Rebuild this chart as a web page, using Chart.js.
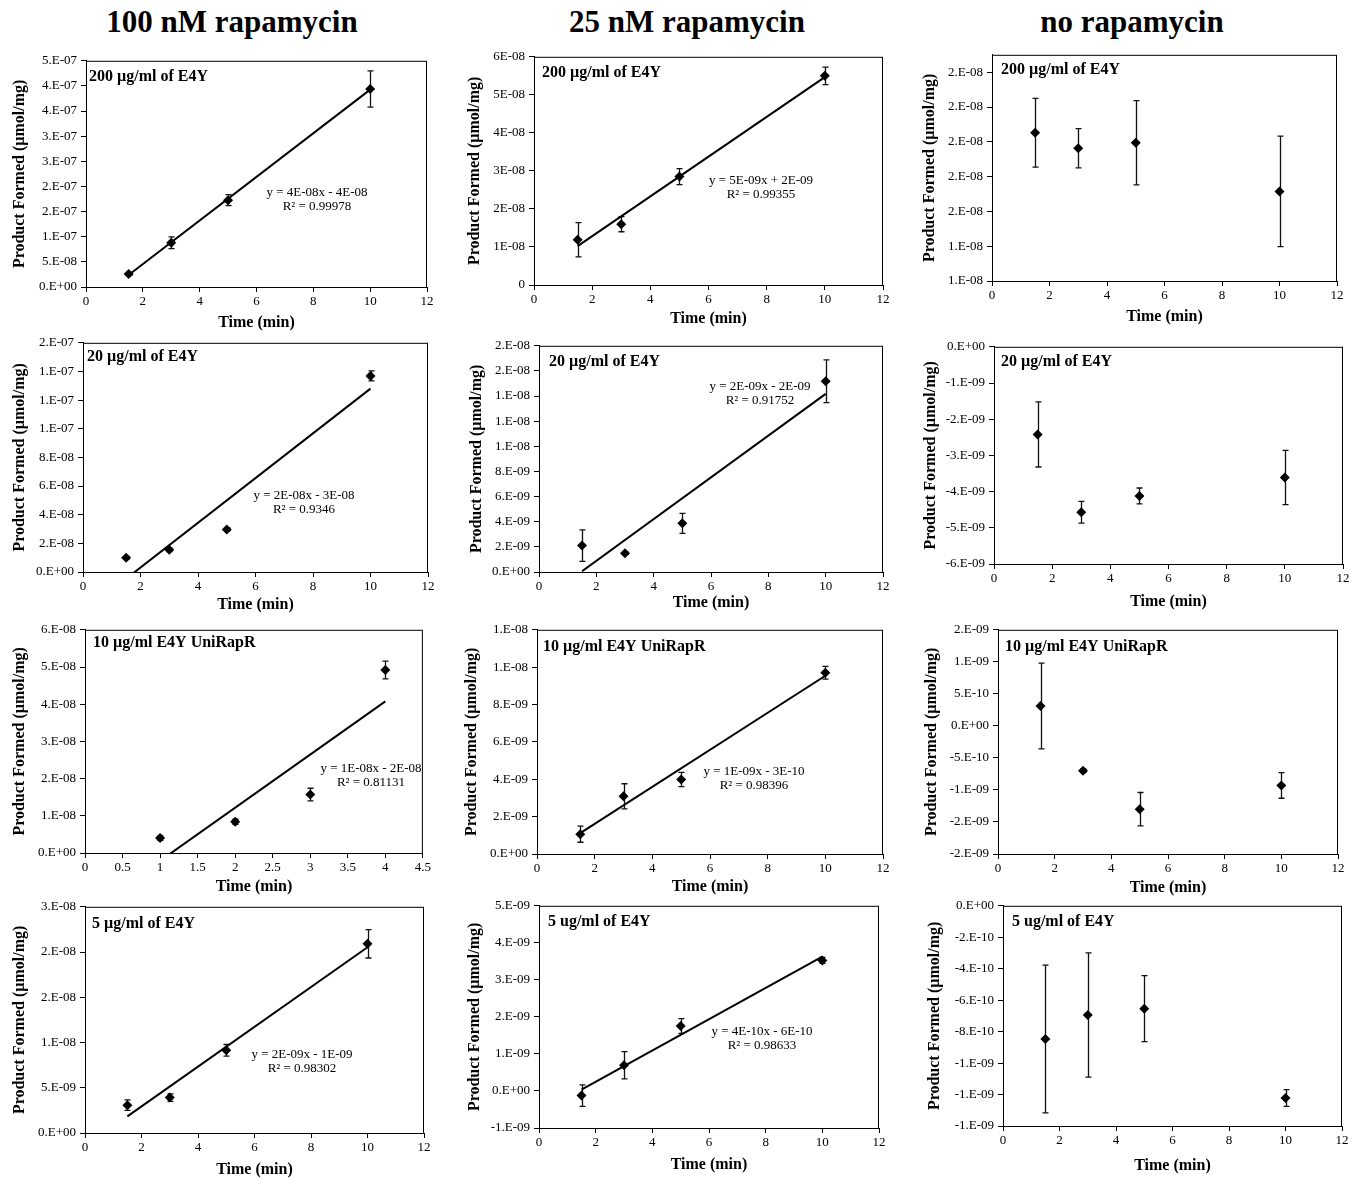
<!DOCTYPE html>
<html>
<head>
<meta charset="utf-8">
<script src="https://cdn.jsdelivr.net/npm/chart.js@4.4.0/dist/chart.umd.min.js"></script>
<style>
  body { margin: 0; background: #fff; width: 1362px; height: 1178px; position: relative; overflow: hidden; }
  .head { position: absolute; top: 4px; line-height: 36px; font: bold 31px "Liberation Serif", serif; transform: translateX(-50%); white-space: nowrap; color: #000; }
  canvas { position: absolute; }
</style>
</head>
<body>
<div class="head" style="left:232px">100 nM rapamycin</div>
<div class="head" style="left:687px">25 nM rapamycin</div>
<div class="head" style="left:1132px">no rapamycin</div>

<script>
// time points (min)
const time    = [1.5, 3, 5, 10]
const timeUni = [1, 2, 3, 4]

const xl_time = ["0", "2", "4", "6", "8", "10", "12"]
const xl_uni  = ["0", "0.5", "1", "1.5", "2", "2.5", "3", "3.5", "4", "4.5"]

// 100 nM rapamycin
const r100_200       = [2.61e-8, 8.82e-8, 1.728e-7, 3.94e-7]
const r100_200_err   = [0.27e-8, 1.17e-8, 1.08e-8, 3.6e-8]
const r100_20        = [0.99e-8, 1.55e-8, 2.97e-8, 1.369e-7]
const r100_20_err    = [0.1e-8, 0.12e-8, 0.1e-8, 0.35e-8]
const r100_10uni     = [0.40e-8, 0.84e-8, 1.57e-8, 4.92e-8]
const r100_10uni_err = [0.06e-8, 0.07e-8, 0.17e-8, 0.24e-8]
const r100_5         = [3.07e-9, 3.91e-9, 9.14e-9, 2.091e-8]
const r100_5_err     = [0.58e-9, 0.42e-9, 0.64e-9, 1.57e-9]

// 25 nM rapamycin
const r25_200       = [1.19e-8, 1.60e-8, 2.85e-8, 5.50e-8]
const r25_200_err   = [0.45e-8, 0.2e-8, 0.21e-8, 0.23e-8]
const r25_20        = [2.1e-9, 1.5e-9, 3.87e-9, 1.518e-8]
const r25_20_err    = [1.26e-9, 0.1e-9, 0.79e-9, 1.7e-9]
const r25_10uni     = [1.06e-9, 3.09e-9, 3.99e-9, 9.70e-9]
const r25_10uni_err = [0.43e-9, 0.67e-9, 0.38e-9, 0.34e-9]
const r25_5         = [-0.125e-9, 0.695e-9, 1.754e-9, 3.526e-9]
const r25_5_err     = [0.29e-9, 0.37e-9, 0.2e-9, 0.08e-9]

// no rapamycin
const r0_200       = [2.052e-8, 1.963e-8, 1.995e-8, 1.715e-8]
const r0_200_err   = [0.197e-8, 0.113e-8, 0.242e-8, 0.318e-8]
const r0_20        = [-2.42e-9, -4.57e-9, -4.12e-9, -3.61e-9]
const r0_20_err    = [0.9e-9, 0.3e-9, 0.22e-9, 0.75e-9]
const r0_10uni     = [0.31e-9, -0.70e-9, -1.30e-9, -0.93e-9]
const r0_10uni_err = [0.67e-9, 0.03e-9, 0.26e-9, 0.2e-9]
const r0_5         = [-8.47e-10, -6.94e-10, -6.54e-10, -12.22e-10]
const r0_5_err     = [4.7e-10, 3.95e-10, 2.1e-10, 0.53e-10]

// y tick labels (Excel 0.E+00 format)
const yl_r100_200   = ["0.E+00", "5.E-08", "1.E-07", "2.E-07", "2.E-07", "3.E-07", "3.E-07", "4.E-07", "4.E-07", "5.E-07"]
const yl_r100_20    = ["0.E+00", "2.E-08", "4.E-08", "6.E-08", "8.E-08", "1.E-07", "1.E-07", "1.E-07", "2.E-07"]
const yl_r100_10uni = ["0.E+00", "1.E-08", "2.E-08", "3.E-08", "4.E-08", "5.E-08", "6.E-08"]
const yl_r100_5     = ["0.E+00", "5.E-09", "1.E-08", "2.E-08", "2.E-08", "3.E-08"]
const yl_r25_200    = ["0", "1E-08", "2E-08", "3E-08", "4E-08", "5E-08", "6E-08"]
const yl_r25_20     = ["0.E+00", "2.E-09", "4.E-09", "6.E-09", "8.E-09", "1.E-08", "1.E-08", "1.E-08", "2.E-08", "2.E-08"]
const yl_r25_10uni  = ["0.E+00", "2.E-09", "4.E-09", "6.E-09", "8.E-09", "1.E-08", "1.E-08"]
const yl_r25_5      = ["-1.E-09", "0.E+00", "1.E-09", "2.E-09", "3.E-09", "4.E-09", "5.E-09"]
const yl_r0_200     = ["1.E-08", "1.E-08", "2.E-08", "2.E-08", "2.E-08", "2.E-08", "2.E-08"]
const yl_r0_20      = ["-6.E-09", "-5.E-09", "-4.E-09", "-3.E-09", "-2.E-09", "-1.E-09", "0.E+00"]
const yl_r0_10uni   = ["-2.E-09", "-2.E-09", "-1.E-09", "-5.E-10", "0.E+00", "5.E-10", "1.E-09", "2.E-09"]
const yl_r0_5       = ["-1.E-09", "-1.E-09", "-1.E-09", "-8.E-10", "-6.E-10", "-4.E-10", "-2.E-10", "0.E+00"]

const FONT = '"Liberation Serif", serif'

// box: plot area [left, top, right, bottom], yTitleX, xTitleDy, title offset dx, dy
const panels = [
  { x: time, y: r100_200, err: r100_200_err, yMin: 0, yStep: 5e-8, yl: yl_r100_200, xl: xl_time, xStep: 2,
    title: "200 µg/ml of E4Y", eq: ["y = 4E-08x - 4E-08", "R² = 0.99978", 317, 193],
    box: [86, 59, 427, 287], ytx: 19.7, xtd: 35, td: [3, 16] },
  { x: time, y: r25_200, err: r25_200_err, yMin: 0, yStep: 1e-8, yl: yl_r25_200, xl: xl_time, xStep: 2,
    title: "200 µg/ml of E4Y", eq: ["y = 5E-09x + 2E-09", "R² = 0.99355", 761, 181],
    box: [534, 55, 883, 285], ytx: 475, xtd: 33, td: [8, 16] },
  { x: time, y: r0_200, err: r0_200_err, yMin: 1.2e-8, yStep: 0.2e-8, yMax: 2.5e-8, yl: yl_r0_200, xl: xl_time, xStep: 2,
    title: "200 µg/ml of E4Y", eq: null,
    box: [992, 53, 1337, 281], ytx: 930, xtd: 35, td: [9, 15] },

  { x: time, y: r100_20, err: r100_20_err, yMin: 0, yStep: 2e-8, yl: yl_r100_20, xl: xl_time, xStep: 2,
    title: "20 µg/ml of E4Y", eq: ["y = 2E-08x - 3E-08", "R² = 0.9346", 304, 496],
    box: [83, 341, 428, 572], ytx: 19.3, xtd: 32, td: [4, 14] },
  { x: time, y: r25_20, err: r25_20_err, yMin: 0, yStep: 2e-9, yl: yl_r25_20, xl: xl_time, xStep: 2,
    title: "20 µg/ml of E4Y", eq: ["y = 2E-09x - 2E-09", "R² = 0.91752", 760, 387],
    box: [539, 344, 883, 572], ytx: 476.7, xtd: 30, td: [10, 16] },
  { x: time, y: r0_20, err: r0_20_err, yMin: -6e-9, yStep: 1e-9, yl: yl_r0_20, xl: xl_time, xStep: 2,
    title: "20 µg/ml of E4Y", eq: null,
    box: [994, 345, 1343, 564], ytx: 931, xtd: 37, td: [7, 15] },

  { x: timeUni, y: r100_10uni, err: r100_10uni_err, yMin: 0, yStep: 1e-8, yl: yl_r100_10uni, xl: xl_uni, xStep: 0.5,
    title: "10 µg/ml E4Y UniRapR", eq: ["y = 1E-08x - 2E-08", "R² = 0.81131", 371, 769],
    box: [85, 628, 423, 853], ytx: 19.3, xtd: 33, td: [8, 13] },
  { x: time, y: r25_10uni, err: r25_10uni_err, yMin: 0, yStep: 2e-9, yl: yl_r25_10uni, xl: xl_time, xStep: 2,
    title: "10 µg/ml E4Y UniRapR", eq: ["y = 1E-09x - 3E-10", "R² = 0.98396", 754, 772],
    box: [537, 628, 883, 854], ytx: 472, xtd: 32, td: [6, 17] },
  { x: time, y: r0_10uni, err: r0_10uni_err, yMin: -2e-9, yStep: 5e-10, yl: yl_r0_10uni, xl: xl_time, xStep: 2,
    title: "10 µg/ml E4Y UniRapR", eq: null,
    box: [998, 628, 1338, 854], ytx: 932, xtd: 33, td: [7, 17] },

  { x: time, y: r100_5, err: r100_5_err, yMin: 0, yStep: 5e-9, yl: yl_r100_5, xl: xl_time, xStep: 2,
    title: "5 µg/ml of E4Y", eq: ["y = 2E-09x - 1E-09", "R² = 0.98302", 302, 1055],
    box: [85, 905, 424, 1133], ytx: 20, xtd: 36, td: [7, 17] },
  { x: time, y: r25_5, err: r25_5_err, yMin: -1e-9, yStep: 1e-9, yl: yl_r25_5, xl: xl_time, xStep: 2,
    title: "5 ug/ml of E4Y", eq: ["y = 4E-10x - 6E-10", "R² = 0.98633", 762, 1032],
    box: [539, 904, 879, 1128], ytx: 474.3, xtd: 36, td: [9, 16] },
  { x: time, y: r0_5, err: r0_5_err, yMin: -1.4e-9, yStep: 2e-10, yl: yl_r0_5, xl: xl_time, xStep: 2,
    title: "5 ug/ml of E4Y", eq: null,
    box: [1003, 904, 1342, 1126], ytx: 934.7, xtd: 39, td: [9, 16] },
]

// least squares line, like the Excel trendline
function fitLine(xs, ys) {
  const n  = xs.length
  const mx = xs.reduce((a, b) => a + b, 0) / n
  const my = ys.reduce((a, b) => a + b, 0) / n
  let sxy = 0, sxx = 0
  xs.forEach((x, i) => { sxy += (x - mx) * (ys[i] - my); sxx += (x - mx) ** 2 })
  const m = sxy / sxx
  const b = my - m * mx
  const x0 = xs[0], x1 = xs[n - 1]
  return [{ x: x0, y: m * x0 + b }, { x: x1, y: m * x1 + b }]
}

const panelDecor = {
  id: 'panelDecor',
  beforeDatasetsDraw(chart, args, opts) {
    const { ctx } = chart
    const xs = chart.scales.x, ys = chart.scales.y
    ctx.save()
    ctx.strokeStyle = '#111'
    ctx.lineWidth = 1.3
    opts.px.forEach((xv, i) => {
      const e = opts.err[i]
      if (!e) return
      const px = Math.round(xs.getPixelForValue(xv)) + 0.5
      const top = ys.getPixelForValue(opts.py[i] + e)
      const bot = ys.getPixelForValue(opts.py[i] - e)
      ctx.beginPath()
      ctx.moveTo(px, top); ctx.lineTo(px, bot)
      ctx.moveTo(px - 3, top); ctx.lineTo(px + 3, top)
      ctx.moveTo(px - 3, bot); ctx.lineTo(px + 3, bot)
      ctx.stroke()
    })
    ctx.restore()
  },
  afterDraw(chart, args, opts) {
    const { ctx, chartArea: a } = chart
    ctx.save()
    ctx.strokeStyle = '#000'
    ctx.lineWidth = 1
    ctx.strokeRect(a.left + 0.5, a.top + 0.5, a.right - a.left - 1, a.bottom - a.top)
    ctx.fillStyle = '#000'
    ctx.textBaseline = 'middle'
    ctx.textAlign = 'left'
    ctx.font = 'bold 16px ' + FONT
    ctx.fillText(opts.title, a.left + opts.td[0], a.top + opts.td[1])
    if (opts.eq) {
      ctx.font = '13px ' + FONT
      ctx.textAlign = 'center'
      const cx = opts.eq[2] - opts.ox, cy = opts.eq[3] - opts.oy
      ctx.fillText(opts.eq[0], cx, cy)
      ctx.fillText(opts.eq[1], cx, cy + 14)
    }
    ctx.restore()
  }
}

panels.forEach(p => {
  const [L, T, R, B] = p.box
  const left = Math.round(p.ytx - 9.6)
  const top  = T - 10
  const yw   = L - left
  const xh   = Math.round(p.xtd + 9.6)
  const w    = R + 10 - left
  const h    = B + xh - top

  const cv = document.createElement('canvas')
  cv.width = w; cv.height = h
  cv.style.left = left + 'px'; cv.style.top = top + 'px'
  cv.style.width = w + 'px'; cv.style.height = h + 'px'
  document.body.appendChild(cv)

  const yMax = p.yMax !== undefined ? p.yMax : p.yMin + p.yStep * (p.yl.length - 1)
  const xMax = p.xStep * (p.xl.length - 1)

  const datasets = [{
    data: p.x.map((x, i) => ({ x, y: p.y[i] })),
    pointStyle: 'rectRot',
    pointRadius: 5,
    backgroundColor: '#000',
    borderColor: '#000',
    borderWidth: 0,
    showLine: false,
    order: 0,
  }]
  if (p.eq) {
    datasets.push({
      data: fitLine(p.x, p.y),
      showLine: true,
      pointRadius: 0,
      borderColor: '#000',
      borderWidth: 2,
      order: 1,
    })
  }

  const tickFont = { family: FONT, size: 13 }
  const titleFont = { family: FONT, size: 16, weight: 'bold' }

  new Chart(cv, {
    type: 'scatter',
    data: { datasets },
    plugins: [panelDecor],
    options: {
      responsive: false,
      animation: false,
      devicePixelRatio: 1,
      layout: { padding: { left: 0, top: 10, right: 10, bottom: 0 } },
      plugins: {
        legend: { display: false },
        tooltip: { enabled: false },
        panelDecor: { px: p.x, py: p.y, err: p.err, title: p.title, td: p.td, eq: p.eq, ox: left, oy: top },
      },
      scales: {
        x: {
          type: 'linear', min: 0, max: xMax,
          afterBuildTicks: s => { s.ticks = p.xl.map((_, i) => ({ value: i * p.xStep })) },
          afterFit: s => { s.height = xh },
          ticks: { callback: (v, i) => p.xl[i], color: '#000', font: tickFont, padding: 2, maxRotation: 0, autoSkip: false },
          grid: { drawOnChartArea: false, color: '#000', tickLength: 5 },
          border: { color: '#000', width: 1 },
          title: { display: true, text: 'Time (min)', color: '#000', font: titleFont, padding: 0 },
        },
        y: {
          type: 'linear', min: p.yMin, max: yMax,
          afterBuildTicks: s => { s.ticks = p.yl.map((_, i) => ({ value: p.yMin + i * p.yStep })) },
          afterFit: s => { s.width = yw },
          ticks: { callback: (v, i) => p.yl[i], color: '#000', font: tickFont, padding: 4, autoSkip: false },
          grid: { drawOnChartArea: false, color: '#000', tickLength: 5 },
          border: { color: '#000', width: 1 },
          title: { display: true, text: 'Product Formed (µmol/mg)', color: '#000', font: titleFont, padding: 0 },
        },
      },
    },
  })
})
</script>
</body>
</html>
